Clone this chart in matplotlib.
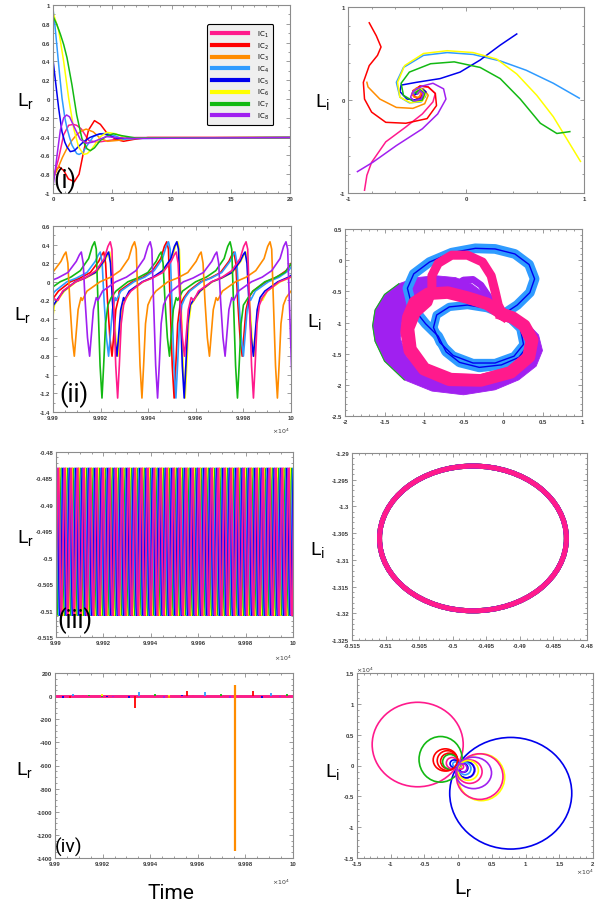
import numpy as np
import matplotlib
matplotlib.use("Agg")
import matplotlib.pyplot as plt
from matplotlib import font_manager
from matplotlib.lines import Line2D
from matplotlib.patches import Ellipse, PathPatch
from matplotlib.path import Path
from matplotlib.ticker import MultipleLocator, AutoMinorLocator, FuncFormatter

plt.rcParams["axes.unicode_minus"] = False

_names = {f.name for f in font_manager.fontManager.ttflist}
LABEL_FONT = "Roboto" if "Roboto" in _names else "DejaVu Sans"
TICK_FONT = "Liberation Sans" if "Liberation Sans" in _names else "DejaVu Sans"

# IC1 .. IC8
ic_colors = ["#ff1a8c", "#ff0000", "#ff8c00", "#2f9bff", "#0000ee", "#ffff00", "#13b913", "#a020f0"]
ic_labels = [r"IC$_{%d}$" % (i + 1) for i in range(8)]

# ---------------- panel (i): transient to the fixed point ----------------
trans_t = [
    [0, 0.48, 0.9, 1.32, 1.7, 2.0, 2.4, 3.0, 3.7, 4.8, 6, 7, 20],
    [0, 0.25, 0.5, 0.9, 1.3, 1.8, 2.2, 2.6, 3.0, 3.5, 4.0, 4.6, 5.3, 5.95, 6.8, 8, 20],
    [0, 0.4, 0.8, 1.2, 1.6, 2.0, 2.4, 2.8, 3.4, 4.0, 4.6, 5.5, 7, 20],
    [0, 0.15, 0.34, 0.55, 0.76, 1.0, 1.18, 1.4, 1.6, 2.0, 2.2, 2.5, 2.9, 3.4, 4.0, 4.5, 5.2, 6.0, 7, 20],
    [0, 0.2, 0.48, 0.76, 1.0, 1.18, 1.46, 1.8, 2.2, 2.58, 3.1, 3.7, 4.0, 4.6, 5.4, 6.5, 20],
    [0, 0.48, 0.9, 1.32, 1.74, 2.16, 2.58, 2.9, 3.29, 4.0, 4.55, 5.3, 6.2, 7, 20],
    [0, 0.3, 0.62, 0.9, 1.18, 1.6, 2.0, 2.44, 2.87, 3.15, 3.5, 4.0, 4.6, 5.1, 5.8, 7, 20],
    [0, 0.15, 0.34, 0.62, 0.9, 1.15, 1.4, 1.8, 2.3, 2.8, 3.3, 3.9, 4.5, 5.3, 6.5, 20],
]
trans_lr = [
    [-0.85, -0.63, -0.38, -0.28, -0.27, -0.28, -0.32, -0.44, -0.46, -0.44, -0.415, -0.41, -0.41],
    [-0.86, -0.76, -0.72, -0.76, -0.85, -0.88, -0.8, -0.55, -0.33, -0.23, -0.27, -0.37, -0.43, -0.45, -0.43, -0.41, -0.41],
    [-0.84, -0.74, -0.62, -0.52, -0.44, -0.38, -0.34, -0.32, -0.35, -0.42, -0.45, -0.44, -0.415, -0.41],
    [0.96, 0.8, 0.55, 0.27, 0.01, -0.2, -0.31, -0.41, -0.49, -0.58, -0.59, -0.57, -0.49, -0.4, -0.37, -0.365, -0.39, -0.43, -0.42, -0.41],
    [0.42, 0.2, -0.1, -0.35, -0.46, -0.51, -0.56, -0.55, -0.5, -0.455, -0.41, -0.38, -0.37, -0.38, -0.42, -0.415, -0.41],
    [0.92, 0.73, 0.4, 0.01, -0.31, -0.51, -0.59, -0.58, -0.53, -0.4, -0.355, -0.37, -0.42, -0.415, -0.41],
    [0.88, 0.8, 0.69, 0.58, 0.44, 0.15, -0.17, -0.42, -0.53, -0.55, -0.52, -0.44, -0.39, -0.37, -0.39, -0.415, -0.41],
    [-0.93, -0.8, -0.6, -0.33, -0.2, -0.17, -0.19, -0.3, -0.43, -0.47, -0.46, -0.43, -0.4, -0.41, -0.42, -0.41],
]
spiral_lr = [
    [-0.86, -0.84, -0.80, -0.68, -0.51, -0.37, -0.28, -0.26, -0.32, -0.39, -0.43, -0.44, -0.41, -0.38, -0.39, -0.41],
    [-0.82, -0.76, -0.72, -0.75, -0.82, -0.87, -0.86, -0.80, -0.68, -0.51, -0.33, -0.25, -0.26, -0.32, -0.39, -0.45, -0.45, -0.42, -0.38, -0.37, -0.41, -0.43, -0.41],
    [-0.84, -0.83, -0.73, -0.59, -0.45, -0.35, -0.32, -0.36, -0.42, -0.46, -0.44, -0.40, -0.38, -0.40, -0.41],
    [0.96, 0.74, 0.51, 0.29, 0.06, -0.16, -0.36, -0.53, -0.59, -0.56, -0.48, -0.38, -0.34, -0.36, -0.42, -0.44, -0.41],
    [0.43, 0.29, 0.12, -0.05, -0.22, -0.42, -0.55, -0.56, -0.5, -0.42, -0.35, -0.34, -0.38, -0.42, -0.43, -0.41],
    [0.97, 0.85, 0.74, 0.6, 0.43, 0.26, 0.06, -0.16, -0.36, -0.52, -0.58, -0.56, -0.47, -0.37, -0.34, -0.38, -0.43, -0.41],
    [0.88, 0.77, 0.63, 0.46, 0.29, 0.12, -0.1, -0.3, -0.48, -0.55, -0.53, -0.45, -0.37, -0.35, -0.39, -0.43, -0.41],
    [-0.92, -0.79, -0.59, -0.37, -0.24, -0.17, -0.19, -0.28, -0.37, -0.45, -0.47, -0.44, -0.38, -0.36, -0.39, -0.41],
]
spiral_li = [
    [-0.97, -0.81, -0.67, -0.45, -0.29, -0.15, -0.02, 0.07, 0.14, 0.15, 0.1, 0.05, 0.02, 0.05, 0.09, 0.07],
    [0.83, 0.69, 0.57, 0.48, 0.37, 0.19, 0.01, -0.13, -0.24, -0.25, -0.2, -0.06, 0.07, 0.14, 0.15, 0.1, 0.05, 0.02, 0.03, 0.09, 0.1, 0.07, 0.07],
    [0.19, 0.14, 0.01, -0.08, -0.09, -0.04, 0.05, 0.12, 0.13, 0.07, 0.03, 0.03, 0.07, 0.09, 0.07],
    [0.02, 0.18, 0.32, 0.42, 0.49, 0.51, 0.48, 0.35, 0.19, 0.03, -0.03, -0.02, 0.05, 0.11, 0.12, 0.07, 0.07],
    [0.71, 0.59, 0.43, 0.3, 0.23, 0.19, 0.16, 0.09, 0.01, 0.0, 0.03, 0.09, 0.12, 0.1, 0.06, 0.07],
    [-0.66, -0.41, -0.18, 0.05, 0.28, 0.44, 0.51, 0.53, 0.5, 0.37, 0.19, 0.03, -0.03, -0.01, 0.06, 0.12, 0.1, 0.07],
    [-0.34, -0.36, -0.25, 0.01, 0.23, 0.35, 0.41, 0.39, 0.3, 0.18, 0.05, -0.01, 0.0, 0.07, 0.11, 0.08, 0.07],
    [-0.77, -0.67, -0.49, -0.31, -0.15, 0.01, 0.12, 0.18, 0.15, 0.09, 0.03, -0.01, 0.01, 0.07, 0.1, 0.07],
]

# ---------------- panel (ii): relaxation spikes ----------------
# one large and one small spike (time relative to the peak)
big_dt = [-22, -20, -14.5, -10, -6, -2.5, -1, 0, 0.7, 1.4, 2.3, 3.1, 3.8, 4.6, 5.6]
big_y = [-0.2, -0.1, 0.0, 0.05, 0.12, 0.25, 0.38, 0.43, 0.35, -0.2, -0.9, -1.25, -0.9, -0.45, -0.25]
small_dt = [-21, -19, -14, -10, -5.6, -2.1, -0.8, 0, 0.8, 1.6, 2.6, 3.5, 4.3, 5.1, 6.3]
small_y = [-0.17, -0.1, 0.0, 0.04, 0.1, 0.22, 0.29, 0.32, 0.2, -0.2, -0.6, -0.8, -0.55, -0.3, -0.17]
spike_peaks = [
    [99893.0, 99924.06, 99951.75, 99981.12, 100009],
    [99893.0, 99921.3, 99947.8, 99976.0, 100004],
    [99877.0, 99905.45, 99934.27, 99962.24, 99991.19, 100019],
    [99891.0, 99919.86, 99948.53, 99976.5, 100005],
    [99894.6, 99923.36, 99952.03, 99980.7, 100009],
    [99895.0, 99923.8, 99952.4, 99981.0, 100010],
    [99889.0, 99917.48, 99945.45, 99974.41, 100003],
    [99883.0, 99911.89, 99940.84, 99968.81, 99997.9, 100026],
]
spike_kind = ["SLSLS", "LSLSL", "LSLSLS", "LSLSL", "LSLSL", "LSLSL", "SLSLS", "LSLSLS"]
spike_order = [5, 1, 3, 4, 6, 2, 7, 0]

# phase portrait (ii): cyan/blue, pink and purple bands
cyan_big_x = [0, 0.18, 0.34, 0.4, 0.33, 0.15, -0.1, -0.35, -0.65, -0.93, -1.13, -1.21, -1.15, -0.98, -0.82, -0.72, -0.55, -0.3, -0.02, 0.2, 0.32, 0.28, 0.12, 0]
cyan_big_y = [-0.87, -0.72, -0.52, -0.3, -0.07, 0.1, 0.18, 0.19, 0.12, -0.03, -0.22, -0.45, -0.75, -1.02, -1.22, -1.47, -1.64, -1.72, -1.68, -1.56, -1.36, -1.12, -0.95, -0.87]
cyan_small_x = [0, -0.2, -0.45, -0.68, -0.84, -0.88, -0.8, -0.63, -0.38, -0.1, 0.14, 0.26, 0.22, 0.1, 0]
cyan_small_y = [-0.87, -0.77, -0.72, -0.75, -0.88, -1.08, -1.32, -1.53, -1.65, -1.65, -1.54, -1.35, -1.1, -0.95, -0.87]
purple_out_x = [0.0, -0.1, -0.22, -0.4, -0.6, -0.85, -1.1, -1.32, -1.5, -1.62, -1.65, -1.62, -1.5, -1.25, -0.9, -0.5, -0.1, 0.2, 0.42, 0.5, 0.45, 0.3, 0.12]
purple_out_y = [-0.87, -0.72, -0.55, -0.38, -0.28, -0.25, -0.28, -0.38, -0.55, -0.8, -1.05, -1.3, -1.62, -1.92, -2.1, -2.16, -2.08, -1.92, -1.7, -1.45, -1.2, -1.0, -0.9]
purple_in_x = [0.0, -0.12, -0.3, -0.5, -0.75, -1.0, -1.18, -1.28, -1.3, -1.22, -1.0, -0.65, -0.25, 0.1, 0.33, 0.42, 0.4, 0.28, 0.12]
purple_in_y = [-0.87, -0.74, -0.6, -0.52, -0.5, -0.56, -0.72, -1.0, -1.25, -1.55, -1.82, -1.98, -1.98, -1.85, -1.65, -1.42, -1.2, -1.02, -0.92]
purple_small_x = [0, -0.1, -0.2, -0.28, -0.38, -0.5, -0.62, -0.72]
purple_small_y = [-0.87, -0.75, -0.55, -0.4, -0.31, -0.32, -0.42, -0.52]
pink_big_x = [0, -0.2, -0.45, -0.7, -0.95, -1.12, -1.2, -1.22, -1.18, -1.0, -0.68, -0.28, 0.1, 0.33, 0.37, 0.27, 0.12, 0]
pink_big_y = [-0.87, -0.7, -0.6, -0.52, -0.54, -0.68, -0.92, -1.15, -1.45, -1.75, -1.92, -1.93, -1.8, -1.55, -1.28, -1.05, -0.92, -0.87]
pink_small_x = [0, -0.06, -0.1, -0.15, -0.26, -0.45, -0.65, -0.82, -0.9, -0.9, -0.95, -1.1, -1.18, -1.15, -0.98, -0.66, -0.28, 0.08, 0.3, 0.34, 0.25, 0.12, 0]
pink_small_y = [-0.87, -0.72, -0.5, -0.25, -0.03, 0.08, 0.08, -0.05, -0.25, -0.5, -0.68, -0.85, -1.1, -1.42, -1.72, -1.88, -1.9, -1.78, -1.55, -1.3, -1.06, -0.93, -0.87]

# ---------------- panel (iii): limit cycle ----------------
cycle_lr = [-0.5109, -0.50889, -0.50442, -0.49797, -0.49102, -0.48555, -0.48307, -0.48506, -0.49002, -0.49772, -0.50492, -0.50939]
cycle_li = [-1.3064, -1.29826, -1.29388, -1.29244, -1.29419, -1.29889, -1.30577, -1.31328, -1.31797, -1.31954, -1.31766, -1.31265]
cycle_period = 2.7
cycle_phase = [0.87, 0.0, 0.1, 0.5, 0.62, 0.22, 0.35, 0.75]

# ---------------- panel (iv): bursts ----------------
burst_t = [
    [99905.6, 99911.9, 99928.0, 99958.0],
    [99906.3, 99933.5, 99955.4, 99983.2],
    [99947.7, 99975.5],
    [99907.4, 99935.2, 99963.1, 99990.7],
    [99903.5, 99921.7, 99930.9, 99953.3, 99987.0],
    [99919.6, 99947.7, 99975.5],
    [99914.4, 99919.6, 99942.1, 99969.7, 99997.5],
    [99924.5, 99945.6, 99973.6, 99994.7],
]
burst_lo = [[-20, 0, -8, 0], [-20, -100, 0, 0], [-15, -1340], [0, 0, 0, 0], [-15, -10, -15, 0, -15],
            [0, -15, 0], [0, -10, 0, 0, 0], [-10, -15, -15, -10]]
burst_hi = [[0, 8, 0, 6], [0, 0, 45, 45], [0, 100], [15, 33, 37, 25], [0, 0, 0, 10, 0],
            [15, 10, 12], [13, 0, 15, 15, 15], [0, 0, 0, 0]]
# loops of the phase portrait (iv), units of 1e4: colour index, centre, width, height
loop_ic = [4, 0, 6, 5, 0, 7, 0, 7, 1, 1, 6, 0, 4, 3, 4, 3, 4, 0, 5, 1, 7]
loop_cx = [0.78, -0.6, -0.26, 0.345, 0.32, 0.23, 0.17, 0.12, -0.16, -0.13, -0.12, -0.09, -0.06, -0.04, 0.12, 0.1, 0.08, 0.04, 0.15, -0.19, 0.06]
loop_cy = [-0.45, 0.34, 0.10, -0.19, -0.18, -0.12, -0.1, -0.07, 0.08, 0.07, 0.06, 0.04, 0.03, 0.02, -0.07, -0.05, -0.04, -0.02, -0.08, 0.09, -0.04]
loop_w = [1.81, 1.35, 0.64, 0.69, 0.69, 0.53, 0.37, 0.26, 0.3, 0.26, 0.22, 0.17, 0.12, 0.08, 0.24, 0.18, 0.13, 0.08, 0.3, 0.36, 0.14]
loop_h = [1.81, 1.37, 0.74, 0.76, 0.74, 0.51, 0.38, 0.26, 0.32, 0.26, 0.24, 0.18, 0.12, 0.08, 0.26, 0.2, 0.14, 0.08, 0.32, 0.36, 0.14]


def fmt(v, pos):
    s = ("%.4f" % v).rstrip("0").rstrip(".")
    return "0" if s in ("-0", "") else s


def style(ax, xmaj, ymaj, xmin=2, ymin=2):
    for sp in ax.spines.values():
        sp.set_color("#8c8c8c")
        sp.set_linewidth(0.8)
    ax.xaxis.set_major_locator(MultipleLocator(xmaj))
    ax.yaxis.set_major_locator(MultipleLocator(ymaj))
    ax.xaxis.set_minor_locator(AutoMinorLocator(xmin))
    ax.yaxis.set_minor_locator(AutoMinorLocator(ymin))
    ax.xaxis.set_major_formatter(FuncFormatter(fmt))
    ax.yaxis.set_major_formatter(FuncFormatter(fmt))
    ax.tick_params(which="both", direction="in", top=True, right=True, color="#8c8c8c",
                   labelcolor="#3a3a3a", labelsize=4.3, width=0.6, pad=2)
    ax.tick_params(which="major", length=3)
    ax.tick_params(which="minor", length=1.5)
    for lab in ax.get_xticklabels() + ax.get_yticklabels():
        lab.set_fontfamily(TICK_FONT)
        lab.set_fontweight("bold")


def px(x, y):
    return x / 597.0, 1 - y / 903.0


def ring(ax, xo, yo, xi, yi, color):
    outer = np.column_stack([xo, yo])
    inner = np.column_stack([xi, yi])

    def area(p):
        return np.sum(p[:-1, 0] * p[1:, 1] - p[1:, 0] * p[:-1, 1])
    if np.sign(area(outer)) == np.sign(area(inner)):
        inner = inner[::-1]
    verts = np.vstack([outer, outer[:1], inner, inner[:1]])
    codes = ([Path.MOVETO] + [Path.LINETO] * (len(outer) - 1) + [Path.CLOSEPOLY]
             + [Path.MOVETO] + [Path.LINETO] * (len(inner) - 1) + [Path.CLOSEPOLY])
    ax.add_patch(PathPatch(Path(verts, codes), facecolor=color, edgecolor=color, lw=0.6))


def spike_train(peaks, kinds):
    ts, ys = [], []
    for p, k in zip(peaks, kinds):
        dts, vals = (big_dt, big_y) if k == "L" else (small_dt, small_y)
        for d, v in zip(dts, vals):
            if not ts or p + d > ts[-1]:
                ts.append(p + d)
                ys.append(v)
    return np.array(ts), np.array(ys)


fig = plt.figure(figsize=(5.97, 9.03), dpi=100)


def axes_px(l, r, t, b):
    return fig.add_axes([l / 597, 1 - b / 903, (r - l) / 597, (b - t) / 903])


ax1 = axes_px(53, 290, 6, 194)
ax2 = axes_px(348, 584, 8, 194)
ax3 = axes_px(53, 291, 227, 413)
ax4 = axes_px(345, 582, 230, 417)
ax5 = axes_px(56, 293, 453, 638)
ax6 = axes_px(352, 587, 454, 641)
ax7 = axes_px(55, 293, 674, 859)
ax8 = axes_px(357, 593, 674, 859)

# (i) time series
for i in range(8):
    ax1.plot(trans_t[i], trans_lr[i], color=ic_colors[i], lw=1.1, solid_joinstyle="round")
ax1.set_xlim(0, 20)
ax1.set_ylim(-1, 1)
style(ax1, 5, 0.2, 5, 2)
handles = [Line2D([], [], color=c, lw=3) for c in ic_colors]
leg = ax1.legend(handles, ic_labels, loc="upper right", bbox_to_anchor=(0.945, 0.915), fontsize=5,
                 handlelength=5.2, handletextpad=1.4, labelspacing=0.22, borderpad=0.6,
                 fancybox=True, framealpha=1, facecolor="#efefef", edgecolor="black")
leg.get_frame().set_linewidth(0.8)

# (i) phase portrait
for i in range(8):
    ax2.plot(spiral_lr[i], spiral_li[i], color=ic_colors[i], lw=1.1, solid_joinstyle="round")
ax2.set_xlim(-1, 1)
ax2.set_ylim(-1, 1)
style(ax2, 1, 1, 5, 5)

# (ii) time series
for i in spike_order:
    ts, ys = spike_train(spike_peaks[i], spike_kind[i])
    ax3.plot(ts / 1e4, ys, color=ic_colors[i], lw=1.2, solid_joinstyle="round")
ax3.set_xlim(9.99, 10)
ax3.set_ylim(-1.4, 0.6)
style(ax3, 0.002, 0.2, 4, 2)

# (ii) phase portrait
ax4.plot(cyan_big_x, cyan_big_y, color=ic_colors[3], lw=7, solid_joinstyle="round")
ax4.plot(cyan_small_x, cyan_small_y, color=ic_colors[3], lw=6, solid_joinstyle="round")
ax4.plot(cyan_big_x, cyan_big_y, color=ic_colors[4], lw=1.0, solid_joinstyle="round")
ax4.plot(cyan_small_x, cyan_small_y, color=ic_colors[4], lw=1.0, solid_joinstyle="round")
ring(ax4, purple_out_x, purple_out_y, purple_in_x, purple_in_y, ic_colors[7])
ax4.plot(purple_small_x, purple_small_y, color=ic_colors[7], lw=5, solid_joinstyle="round")
ax4.plot(purple_out_x[7:14], purple_out_y[7:14], color=ic_colors[6], lw=0.8)
ax4.plot(pink_big_x, pink_big_y, color=ic_colors[0], lw=9, solid_joinstyle="round")
ax4.plot(pink_small_x, pink_small_y, color=ic_colors[0], lw=6.5, solid_joinstyle="round")
ax4.set_xlim(-2, 1)
ax4.set_ylim(-2.5, 0.5)
style(ax4, 0.5, 0.5, 5, 5)

# (iii) time series, the read cycle repeated with each IC's phase
for i in [1, 2, 5, 6, 3, 4, 7, 0]:
    k = np.arange(-24, 12 * 40)
    ts = 99900 + (k / 12.0 + cycle_phase[i]) * cycle_period
    ys = np.array(cycle_lr)[k % 12]
    ax5.plot(ts / 1e4, ys, color=ic_colors[i], lw=1.0)
ax5.set_xlim(9.99, 10)
ax5.set_ylim(-0.515, -0.48)
style(ax5, 0.002, 0.005, 4, 5)

# (iii) phase portrait: the closed cycle, every IC on it (IC1 on top)
c_x, c_y = np.array(cycle_lr), np.array(cycle_li)
for i in [1, 2, 5, 6, 3, 4, 7, 0]:
    ax6.add_patch(Ellipse(((c_x.max() + c_x.min()) / 2, (c_y.max() + c_y.min()) / 2),
                          c_x.max() - c_x.min(), c_y.max() - c_y.min(), fill=False,
                          edgecolor=ic_colors[i], lw=3.6))
ax6.set_xlim(-0.515, -0.48)
ax6.set_ylim(-1.325, -1.29)
style(ax6, 0.005, 0.005, 5, 5)

# (iv) time series
for i in [4, 3, 6, 5, 7, 1, 2, 0]:
    ax7.plot([9.99, 10.0], [0, 0], color=ic_colors[i], lw=2.0 if i == 0 else 1.0)
for i in [4, 3, 6, 5, 7, 1, 0, 2]:
    ax7.vlines(np.array(burst_t[i]) / 1e4, burst_lo[i], burst_hi[i], color=ic_colors[i],
               lw=1.6 if i == 2 else 1.3)
ax7.set_xlim(9.99, 10)
ax7.set_ylim(-1400, 200)
style(ax7, 0.002, 200, 4, 4)

# (iv) phase portrait
for j in range(len(loop_ic)):
    ax8.add_patch(Ellipse((loop_cx[j], loop_cy[j]), loop_w[j], loop_h[j], fill=False,
                          edgecolor=ic_colors[loop_ic[j]], lw=1.2))
ax8.set_xlim(-1.5, 2)
ax8.set_ylim(-1.5, 1.5)
style(ax8, 0.5, 0.5, 5, 5)

# axis labels
lab_kw = dict(fontfamily=LABEL_FONT, va="baseline", ha="left")
for (x, y, s) in [(17, 106, "r"), (315, 107, "i"), (14, 320, "r"), (307, 327, "i"),
                  (17, 543, "r"), (310, 555, "i"), (16, 775, "r"), (325, 777, "i")]:
    fig.text(*px(x, y), r"$\mathregular{L_%s}$" % s, fontsize=14, **lab_kw)
fig.text(*px(171, 899), "Time", fontsize=15, fontfamily=LABEL_FONT, ha="center", va="baseline")
fig.text(*px(463, 895), r"$\mathregular{L_r}$", fontsize=15, fontfamily=LABEL_FONT,
         ha="center", va="baseline")

# panel tags
for (x, y, s, fs) in [(65, 181, "(i)", 18), (74, 395, "(ii)", 18), (75, 621, "(iii)", 18),
                      (69, 847, "(iv)", 14)]:
    fig.text(*px(x, y), s, fontsize=fs, fontfamily=LABEL_FONT, ha="center", va="center")

# x10^4 multipliers
for (x, y) in [(281, 431), (283, 658), (281, 882), (585, 872), (365, 670)]:
    fig.text(*px(x, y), r"$\times10^4$", fontsize=4.5, color="#3a3a3a", ha="center", va="center")

fig.savefig("out.png", dpi=100, facecolor="white")
